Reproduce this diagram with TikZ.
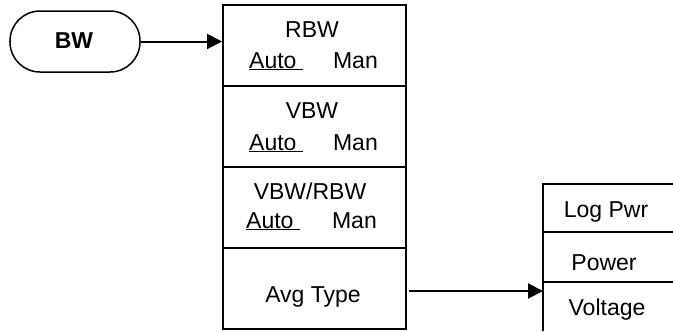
\documentclass[tikz,border=0pt]{standalone}
\usepackage{fontspec}
\setmainfont{Liberation Sans}
\usetikzlibrary{arrows.meta}
\begin{document}
\begin{tikzpicture}[x=1bp,y=-1bp,
  cell/.style={draw,line width=2bp,minimum width=183bp,minimum height=81bp,inner sep=0pt},
  txt/.style={inner sep=0pt,anchor=base,font=\fontsize{23bp}{26bp}\selectfont},
  arr/.style={line width=2bp,-{Triangle[length=15bp,width=15bp]}},
  pill/.style={draw,line width=1.5bp,rounded corners=30bp,minimum width=130bp,minimum height=61bp,inner sep=0pt}]
\useasboundingbox (0,0) rectangle (673,331);
% BW key
\node[pill] (bw) at (75,41.5) {};
\node[txt,font=\fontsize{23bp}{26bp}\selectfont\bfseries] (bwt) at (74,48.5) {BW};
% main menu cells
\node[cell] (rbw) at (314.5,45.5) {};
\node[cell] (vbw) at (314.5,126.5) {};
\node[cell] (ratio) at (314.5,207.5) {};
\node[cell] (avg) at (314.5,288.5) {};
% texts
\node[txt] (rbwt) at (312,37) {RBW};
\node[txt,anchor=base west] (rbwa) at (249,68) {\underline{Auto\ }};
\node[txt,anchor=base east] (rbwm) at (378,68) {Man};
\node[txt] (vbwt) at (312,118) {VBW};
\node[txt,anchor=base west] (vbwa) at (249,150) {\underline{Auto\ }};
\node[txt,anchor=base east] (vbwm) at (378,150) {Man};
\node[txt] (ratiot) at (310,199) {VBW/RBW};
\node[txt,anchor=base west] (ratioa) at (246,228) {\underline{Auto\ }};
\node[txt,anchor=base east] (ratiom) at (377,228) {Man};
\node[txt] (avgt) at (313,302) {Avg Type};
% arrow BW -> menu
\draw[arr] (bw.east) -- (bw.east -| rbw.west);
% right submenu
\coordinate (rtop) at (543,184);
\coordinate (rbot) at (543,331);
\coordinate (d1) at (543,232);
\coordinate (d2) at (543,282);
\coordinate (vin) at (543,291);
\draw[line width=2bp] (rbot) -- (rtop) -- (673,184);
\draw[line width=2bp] (d1) -- (673,232);
\draw[line width=2.2bp] (d2) -- (673,282);
\node[txt] (logpwr) at (606,217) {Log Pwr};
\node[txt] (power) at (604,270) {Power};
\node[txt] (voltage) at (607,315) {Voltage};
\draw[arr] ([xshift=2bp]avg.east |- vin) -- (vin);
\end{tikzpicture}
\end{document}
